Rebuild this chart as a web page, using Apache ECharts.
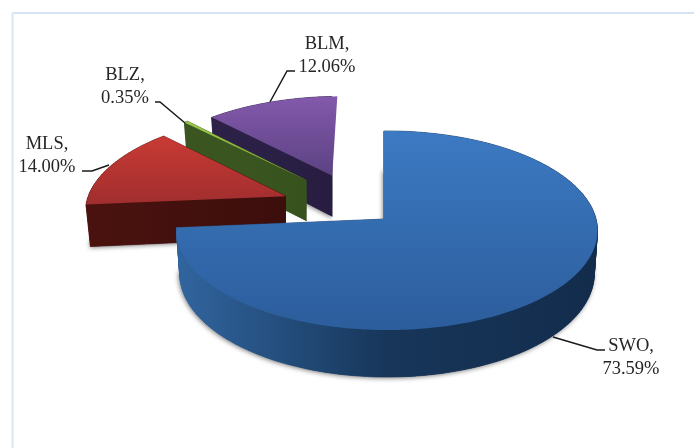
<!DOCTYPE html>
<html>
<head>
<meta charset="utf-8">
<style>html,body{margin:0;padding:0;background:#fff}#c{width:694px;height:448px}</style>
<script src="https://cdn.jsdelivr.net/npm/echarts@6/dist/echarts.min.js"></script>
</head>
<body>
<div id="c"></div>
<script>
// Data, clockwise from 12 o'clock
const categories = ['SWO', 'MLS', 'BLZ', 'BLM'];
const shares = [73.59, 14.00, 0.35, 12.06];

// Styling and layout, by category
const explodeUV = [[0, 0], [-0.485, -0.241], [-0.391, -0.416], [-0.262, -0.465]];
const topColors = [['#3c7ac3', '#2c5d9c'], ['#c93a34', '#a02e2e'], ['#9cc84a', '#7da238'], ['#8459ac', '#5b4282']];
const sideColors = [['#31659f', '#17365a', '#132c4c'], ['#4a120f', '#43100d', '#3c0e0c'], ['#3b5520', '#3b5520', '#38521d'], ['#2d2148', '#2a1f45', '#281d40']];
const labelPos = [[631, 358], [47, 156], [125, 87], [327, 56]];
const leaders = [
  [[605, 350], [597, 350], [553, 337]],
  [[82, 171], [92, 171], [109, 165]],
  [[155, 102], [160, 102], [185, 123]],
  [[295, 71], [287, 71], [270, 102]]
];
const CX = 384, CY = 219, B = 209, A = 98.2, K = 0.1155, J = 0.0143;

function project(u, v) {
  const w = 1 - K * v - J * u;
  return [CX + B * u / w, CY + A * v / w];
}
function drop(p) {
  return [CX + (p[0] - CX) * 0.985, p[1] + 42 + 0.04 * (p[1] - 205)];
}
const total = shares.reduce((a, b) => a + b, 0);
function sliceOutline(idx) {
  let start = 0;
  for (let i = 0; i < idx; i++) start += shares[i];
  const a0 = start / total * 2 * Math.PI, a1 = (start + shares[idx]) / total * 2 * Math.PI;
  const [ou, ov] = explodeUV[idx];
  const steps = Math.max(2, Math.ceil((a1 - a0) / 0.02));
  const arc = [];
  for (let s = 0; s <= steps; s++) {
    const t = a0 + (a1 - a0) * s / steps;
    arc.push(project(ou + Math.sin(t), ov - Math.cos(t)));
  }
  return { center: project(ou, ov), arc };
}
function hgrad(x0, x1, cols) {
  return new echarts.graphic.LinearGradient(x0, 0, x1, 0,
    [{ offset: 0, color: cols[0] }, { offset: 0.5, color: cols[1] }, { offset: 1, color: cols[2] }], true);
}
function vgrad(y0, y1, cols) {
  return new echarts.graphic.LinearGradient(0, y0, 0, y1,
    [{ offset: 0, color: cols[0] }, { offset: 1, color: cols[1] }], true);
}
function renderSlice(params) {
  const i = params.dataIndex;
  const { center, arc } = sliceOutline(i);
  const ring = [center].concat(arc);
  const xs = ring.map(p => p[0]), ys = ring.map(p => p[1]);
  const minX = Math.min(...xs), maxX = Math.max(...xs), minY = Math.min(...ys), maxY = Math.max(...ys);
  const sideFill = hgrad(minX, maxX, sideColors[i]);
  const sideParts = [];
  sideParts.push({
    type: 'polygon', shape: { points: ring.map(drop) },
    style: { fill: sideFill, shadowBlur: 5, shadowColor: 'rgba(0,0,0,0.55)', shadowOffsetX: -1, shadowOffsetY: 1 }
  });
  for (let s = 0; s < ring.length; s++) {
    const p = ring[s], q = ring[(s + 1) % ring.length];
    sideParts.push({
      type: 'polygon', shape: { points: [p, q, drop(q), drop(p)] },
      style: { fill: sideFill, stroke: sideFill, lineWidth: 0.6 }
    });
  }
  const sideGroup = { type: 'group', children: sideParts };
  // exploded slices sit left of the viewpoint: their right-hand cut face is not seen
  if (explodeUV[i][0] !== 0) {
    sideGroup.clipPath = { type: 'rect', shape: { x: 0, y: 0, width: center[0], height: 448 } };
  }
  return {
    type: 'group',
    children: [sideGroup, {
      type: 'polygon', shape: { points: ring },
      style: { fill: vgrad(minY, maxY, topColors[i]) }
    }]
  };
}
function renderLabel(params) {
  const i = params.dataIndex;
  return {
    type: 'group',
    children: [
      { type: 'polyline', shape: { points: leaders[i] }, style: { fill: null, stroke: '#1a1a1a', lineWidth: 1.5 } },
      {
        type: 'text',
        style: {
          x: labelPos[i][0], y: labelPos[i][1],
          text: categories[i] + ',\n' + shares[i].toFixed(2) + '%',
          font: '18.5px "Liberation Serif"', lineHeight: 23,
          fill: '#262626', align: 'center', verticalAlign: 'middle'
        }
      }
    ]
  };
}
// Painted back to front: BLM, BLZ, MLS, SWO
const paintOrder = [3, 2, 1, 0];
const chart = echarts.init(document.getElementById('c'), null, { renderer: 'canvas' });
chart.setOption({
  animation: false,
  backgroundColor: '#ffffff',
  graphic: [
    { type: 'line', shape: { x1: 12.5, y1: 13, x2: 694, y2: 13 }, style: { stroke: '#d5e3f2', lineWidth: 2 } },
    { type: 'line', shape: { x1: 12.5, y1: 13, x2: 12.5, y2: 448 }, style: { stroke: '#dae5f5', lineWidth: 2 } }
  ],
  series: paintOrder.map(idx => ({
    type: 'custom', coordinateSystem: 'none', silent: true, z: 2,
    data: shares.map((v, i) => i === idx ? { name: categories[i], value: v } : null),
    renderItem: (params) => params.dataIndex === idx ? renderSlice(params) : { type: 'group', children: [] }
  })).concat([{
    type: 'custom', coordinateSystem: 'none', silent: true, z: 3,
    data: shares.map((v, i) => ({ name: categories[i], value: v })),
    renderItem: renderLabel
  }])
});
</script>
</body>
</html>
